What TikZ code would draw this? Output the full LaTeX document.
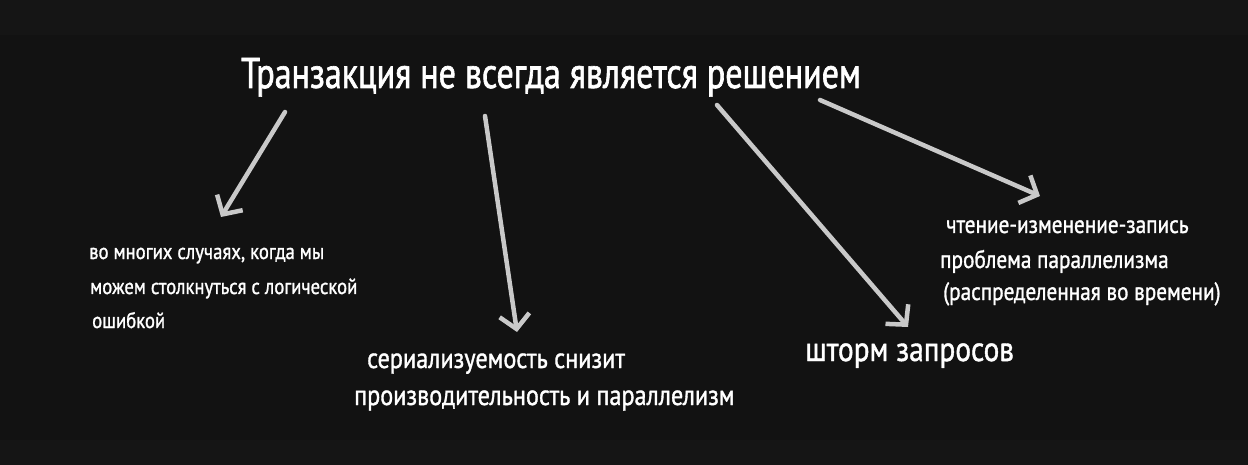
\documentclass[tikz,border=0pt]{standalone}
\usepackage{fontspec}
\setmainfont{PT Sans}[FakeStretch=0.85, FakeBold=1.2]
\newfontfamily\ttlfont{PT Sans}[FakeStretch=0.79, FakeBold=1.5]
\usetikzlibrary{arrows.meta}
\definecolor{bgmain}{HTML}{121212}
\definecolor{bgband}{HTML}{151515}
\definecolor{arrcol}{HTML}{C9C9C9}
\tikzset{
  txt/.style={anchor=base west, inner sep=0pt, text=white},
  ttl/.style={txt, font=\ttlfont\fontsize{43}{50}\selectfont},
  tsmall/.style={txt, font=\fontsize{22}{26}\selectfont},
  tmid/.style={txt, font=\fontsize{28.5}{33}\selectfont},
  tbig/.style={txt, font=\fontsize{34.5}{40}\selectfont},
  tright/.style={txt, font=\fontsize{25}{30}\selectfont},
  arr/.style={draw=arrcol, line width=4.5pt, line cap=round,
    -{Straight Barb[length=14pt, width=30pt]}},
}
\begin{document}
\begin{tikzpicture}[x=1pt,y=-1pt]
\useasboundingbox (0,0) rectangle (1248,465);
\fill[bgmain] (0,0) rectangle (1248,465);
\fill[bgband] (0,0) rectangle (1248,35);
\fill[bgband] (0,440) rectangle (1248,465);

\node[ttl] (title) at (241,88) {Транзакция не всегда является решением};

\node[tsmall] (a1) at (89,259) {во многих случаях, когда мы};
\node[tsmall] (a2) at (90,294) {можем столкнуться с логической};
\node[tsmall] (a3) at (92,328) {ошибкой};

\node[tmid] (b1) at (367,368) {сериализуемость снизит};
\node[tmid] (b2) at (354,405) {производительность и параллелизм};

\node[tbig] (c1) at (805,361) {шторм запросов};

\node[tright] (d1) at (946,233) {чтение-изменение-запись};
\node[tright] (d2) at (940,268) {проблема параллелизма};
\node[tright] (d3) at (943,300) {(распределенная во времени)};

\coordinate (s1) at (285,112); \coordinate (e1) at (221,217);
\coordinate (s2) at (485,116); \coordinate (e2) at (517,332);
\coordinate (s3) at (717,105); \coordinate (e3) at (908,327);
\coordinate (s4) at (820,100); \coordinate (e4) at (1040,196);

\draw[arr] (s1) -- (e1);
\draw[arr] (s2) -- (e2);
\draw[arr] (s3) -- (e3);
\draw[arr] (s4) -- (e4);
\end{tikzpicture}
\end{document}
